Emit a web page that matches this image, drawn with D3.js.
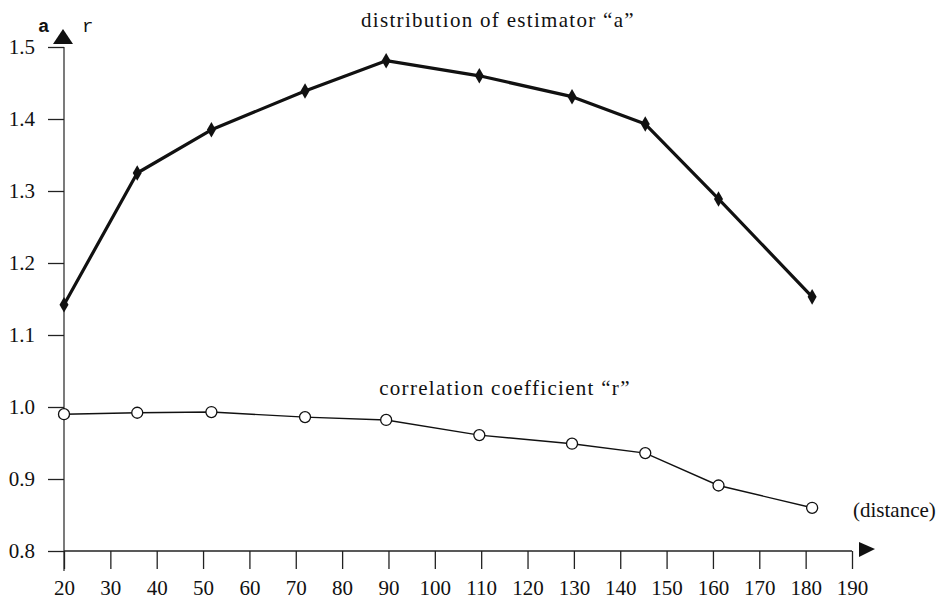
<!DOCTYPE html>
<html>
<head>
  <meta charset="utf-8">
  <script src="https://d3js.org/d3.v7.min.js"></script>
  <style>
    body { margin: 0; background: #fff; }
    text { font-family: "Liberation Serif", "Times New Roman", serif; fill: #111; }
    .axis text { font-size: 21px; }
    .axis line { stroke: #222; stroke-width: 1.3; }
  </style>
</head>
<body>
<svg id="chart" width="951" height="601"></svg>
<script>
  // distances (x) shared by both series
  const distance = [20, 35.8, 51.8, 72, 89.5, 109.6, 129.6, 145.4, 161.2, 181.4];
  // estimator "a"
  const aValues = [1.142, 1.325, 1.385, 1.439, 1.481, 1.460, 1.431, 1.393, 1.289, 1.153];
  // correlation coefficient "r"
  const rValues = [0.990, 0.992, 0.993, 0.986, 0.982, 0.961, 0.949, 0.936, 0.891, 0.860];
  const xTicks = [20, 30, 40, 50, 60, 70, 80, 90, 100, 110, 120, 130, 140, 150, 160, 170, 180, 190];
  const yTicks = [0.8, 0.9, 1.0, 1.1, 1.2, 1.3, 1.4, 1.5];

  const svg = d3.select("svg#chart");
  const margin = {"top": 47, "right": 99, "bottom": 50, "left": 64};
  const width = +svg.attr("width");
  const height = +svg.attr("height");

  const xScale = d3.scaleLinear().domain([20, 190]).range([margin.left, width - margin.right]);
  const yScale = d3.scaleLinear().domain([0.8, 1.5]).range([height - margin.bottom, margin.top]);

  let annotations = svg.append("g").attr("id", "annotations");

  let bottomAxis = d3.axisBottom(xScale)
                     .tickValues(xTicks)
                     .tickSize(18)
                     .tickSizeOuter(0)
                     .tickPadding(11)
                     .tickFormat(d3.format("d"));
  let xg = annotations.append("g")
    .attr("class", "x axis")
    .attr("transform", "translate(0," + yScale(0.8) + ")")
    .call(bottomAxis);
  xg.select(".domain").remove();

  let leftAxis = d3.axisLeft(yScale)
                   .tickValues(yTicks)
                   .tickSize(16)
                   .tickSizeOuter(0)
                   .tickPadding(13)
                   .tickFormat(d3.format(".1f"));
  let yg = annotations.append("g")
    .attr("class", "y axis")
    .attr("transform", "translate(" + xScale(20) + ",0)")
    .call(leftAxis);
  yg.select(".domain").remove();

  // axis lines
  annotations.append("line")
    .attr("x1", xScale(20)).attr("x2", xScale(190))
    .attr("y1", yScale(0.8)).attr("y2", yScale(0.8))
    .attr("stroke", "#222").attr("stroke-width", 1.5);
  annotations.append("line")
    .attr("x1", xScale(20)).attr("x2", xScale(20))
    .attr("y1", yScale(1.5)).attr("y2", yScale(0.8) + 20)
    .attr("stroke", "#222").attr("stroke-width", 1.2);

  // arrow heads
  const ax = xScale(20), ay = yScale(1.5);
  annotations.append("path")
    .attr("d", "M" + (ax - 1) + "," + (ay - 18) + " L" + (ax + 9) + "," + (ay - 3) + " L" + (ax - 11) + "," + (ay - 3) + " Z")
    .attr("fill", "#111");
  const bx = xScale(190), by = yScale(0.8);
  annotations.append("path")
    .attr("d", "M" + (bx + 7) + "," + (by - 9) + " L" + (bx + 23) + "," + (by - 2) + " L" + (bx + 7) + "," + (by + 6) + " Z")
    .attr("fill", "#111");

  // axis names
  annotations.append("text")
    .attr("x", 38).attr("y", 32)
    .style("font-family", "'Liberation Mono', monospace")
    .style("font-size", "19px")
    .style("font-weight", "bold")
    .text("a");
  annotations.append("text")
    .attr("x", 82).attr("y", 32)
    .style("font-family", "'Liberation Mono', monospace")
    .style("font-size", "19px")
    .text("r");
  annotations.append("text")
    .attr("x", 853).attr("y", 517)
    .style("font-size", "21px")
    .text("(distance)");

  // series labels
  annotations.append("text")
    .attr("x", 498).attr("y", 27)
    .attr("text-anchor", "middle")
    .style("font-size", "21px")
    .style("letter-spacing", "1.3px")
    .text("distribution of estimator \u201ca\u201d");
  annotations.append("text")
    .attr("x", 505).attr("y", 395)
    .attr("text-anchor", "middle")
    .style("font-size", "21px")
    .style("letter-spacing", "1.3px")
    .text("correlation coefficient \u201cr\u201d");

  let chartArea = svg.append("g").attr("id", "series");

  const aData = distance.map((d, i) => ({x: d, y: aValues[i]}));
  const rData = distance.map((d, i) => ({x: d, y: rValues[i]}));

  const line = d3.line().x(d => xScale(d.x)).y(d => yScale(d.y));

  chartArea.append("path")
    .datum(aData)
    .attr("d", line)
    .attr("fill", "none")
    .attr("stroke", "#111")
    .attr("stroke-width", 3.2)
    .attr("stroke-linejoin", "round");

  chartArea.selectAll("path.diamond").data(aData)
    .join("path")
    .attr("class", "diamond")
    .attr("d", d3.symbol(d3.symbolDiamond, 70))
    .attr("transform", d => "translate(" + xScale(d.x) + "," + yScale(d.y) + ")")
    .attr("fill", "#111");

  chartArea.append("path")
    .datum(rData)
    .attr("d", line)
    .attr("fill", "none")
    .attr("stroke", "#111")
    .attr("stroke-width", 1.4);

  chartArea.selectAll("circle.rpoint").data(rData)
    .join("circle")
    .attr("class", "rpoint")
    .attr("cx", d => xScale(d.x))
    .attr("cy", d => yScale(d.y))
    .attr("r", 5.5)
    .attr("fill", "#fff")
    .attr("stroke", "#111")
    .attr("stroke-width", 1.3);
</script>
</body>
</html>
